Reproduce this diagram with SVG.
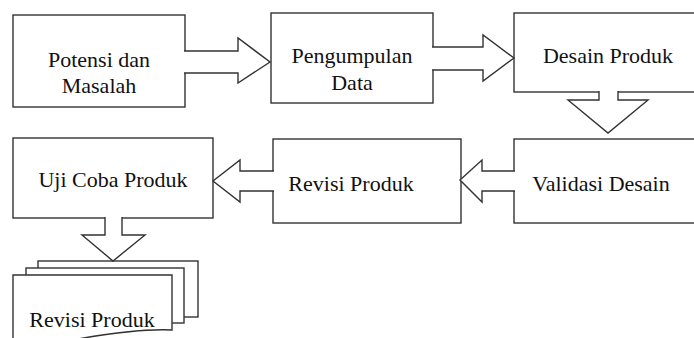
<svg xmlns="http://www.w3.org/2000/svg" width="694" height="338" viewBox="0 0 694 338">
<style>
.box{fill:#fff;stroke:#333;stroke-width:1.4}
.arr{fill:#fff;stroke:#333;stroke-width:1.4;stroke-linejoin:miter}
.t{font-family:'Liberation Serif','DejaVu Serif',serif;font-size:22px;fill:#111;text-anchor:middle}
</style>
<rect width="694" height="338" fill="#fff"/>
<g id="n1"><rect class="box" x="13" y="15" width="172" height="92"/><text class="t" x="99" y="67">Potensi dan</text><text class="t" x="99" y="93">Masalah</text></g>
<g id="n2"><rect class="box" x="271" y="13" width="162" height="90"/><text class="t" x="352" y="63">Pengumpulan</text><text class="t" x="352" y="90">Data</text></g>
<g id="n3"><rect class="box" x="514" y="13" width="190" height="79"/><text class="t" x="608" y="63">Desain Produk</text></g>
<g id="n4"><rect class="box" x="514" y="139" width="190" height="84"/><text class="t" x="601" y="191">Validasi Desain</text></g>
<g id="n5"><rect class="box" x="273" y="139" width="188" height="84"/><text class="t" x="351" y="191">Revisi Produk</text></g>
<g id="n6"><rect class="box" x="13" y="138" width="200" height="80"/><text class="t" x="113" y="187">Uji Coba Produk</text></g>
<g id="n7">
<rect class="box" x="38" y="261" width="160" height="56"/>
<rect class="box" x="26" y="268" width="158" height="55"/>
<path class="box" d="M13,275 H172 V330 C150,329 112,333 78,339 L60,345 H13 Z"/>
<text class="t" x="92" y="327">Revisi Produk</text>
</g>
<g id="connectors">
<path class="arr" d="M184,51 H238 V38 L270,62 L238,83 V73 H184"/>
<path class="arr" d="M432,47 H483 V35 L514,58 L483,81 V70 H432"/>
<path class="arr" d="M599,91 V100 H568 L608,133 L648,100 H618 V91"/>
<path class="arr" d="M515,171 H482 V160 L460,180 L482,202 V191 H515"/>
<path class="arr" d="M274,171 H240 V160 L213,181 L240,202 V191 H274"/>
<path class="arr" d="M105,217 V235 H82 L113,261 L145,235 H122 V217"/>
</g>
</svg>
